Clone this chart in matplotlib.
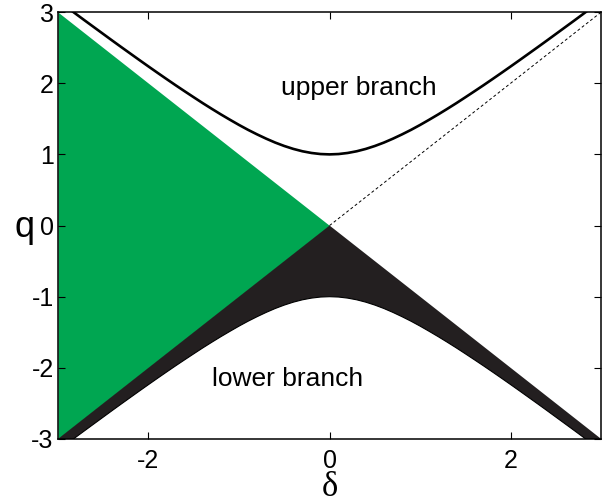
import matplotlib.pyplot as plt

# delta grid and the two branches
delta = [-3.0, -2.9, -2.8, -2.7, -2.6, -2.5, -2.4, -2.3, -2.2, -2.1, -2.0,
         -1.9, -1.8, -1.7, -1.6, -1.5, -1.4, -1.3, -1.2, -1.1, -1.0,
         -0.9, -0.8, -0.7, -0.6, -0.5, -0.4, -0.3, -0.2, -0.1, 0.0,
         0.1, 0.2, 0.3, 0.4, 0.5, 0.6, 0.7, 0.8, 0.9, 1.0,
         1.1, 1.2, 1.3, 1.4, 1.5, 1.6, 1.7, 1.8, 1.9, 2.0,
         2.1, 2.2, 2.3, 2.4, 2.5, 2.6, 2.7, 2.8, 2.9, 3.0]
upper = [3.162, 3.068, 2.973, 2.879, 2.786, 2.693, 2.600, 2.508, 2.417, 2.326, 2.236,
         2.147, 2.059, 1.972, 1.887, 1.803, 1.720, 1.640, 1.562, 1.487, 1.414,
         1.345, 1.281, 1.221, 1.166, 1.118, 1.077, 1.044, 1.020, 1.005, 1.000,
         1.005, 1.020, 1.044, 1.077, 1.118, 1.166, 1.221, 1.281, 1.345, 1.414,
         1.487, 1.562, 1.640, 1.720, 1.803, 1.887, 1.972, 2.059, 2.147, 2.236,
         2.326, 2.417, 2.508, 2.600, 2.693, 2.786, 2.879, 2.973, 3.068, 3.162]
lower = [-3.162, -3.068, -2.973, -2.879, -2.786, -2.693, -2.600, -2.508, -2.417, -2.326, -2.236,
         -2.147, -2.059, -1.972, -1.887, -1.803, -1.720, -1.640, -1.562, -1.487, -1.414,
         -1.345, -1.281, -1.221, -1.166, -1.118, -1.077, -1.044, -1.020, -1.005, -1.000,
         -1.005, -1.020, -1.044, -1.077, -1.118, -1.166, -1.221, -1.281, -1.345, -1.414,
         -1.487, -1.562, -1.640, -1.720, -1.803, -1.887, -1.972, -2.059, -2.147, -2.236,
         -2.326, -2.417, -2.508, -2.600, -2.693, -2.786, -2.879, -2.973, -3.068, -3.162]

# corners of the dark band's top edge (q = -|delta|), walked right to left
band_d = [3.0, 0.0, -3.0]
band_q = [-3.0, 0.0, -3.0]

# green wedge for delta < 0 between q = delta and q = -delta
wedge_d = [-3.0, 0.0]
wedge_lo = [-3.0, 0.0]
wedge_hi = [3.0, 0.0]

# dashed diagonal q = delta for delta > 0
diag_d = [0.0, 3.0]
diag_q = [0.0, 3.0]

xticks = [-2, 0, 2]
yticks = [-3, -2, -1, 0, 1, 2, 3]

plt.rcParams['font.family'] = ['Liberation Sans', 'DejaVu Sans']
plt.rcParams['axes.unicode_minus'] = False

fig = plt.figure(figsize=(6.16, 5.04), dpi=100)
ax = fig.add_axes([0.094, 0.129, 0.882, 0.847])

ax.fill_between(wedge_d, wedge_lo, wedge_hi, color='#00a651', linewidth=0)
ax.fill(delta + band_d, lower + band_q, color='#231f20', linewidth=0)
ax.plot(delta, lower, color='black', linewidth=0.8)
ax.plot(delta, upper, color='black', linewidth=1.9)
ax.plot(diag_d, diag_q, color='black', linewidth=0.7, linestyle=(0, (3, 2.5)))

ax.text(0.32, 1.93, 'upper branch', fontsize=19, ha='center', va='center')
ax.text(-0.46, -2.15, 'lower branch', fontsize=19, ha='center', va='center')

ax.set_xlim(-3, 3)
ax.set_ylim(-3, 3)
ax.set_xticks(xticks)
ax.set_yticks(yticks)
ax.tick_params(direction='in', length=5, width=0.8, labelsize=18,
               top=True, right=True)
ax.tick_params(axis='x', pad=7)
ax.tick_params(axis='y', pad=3)
for sp in ax.spines.values():
    sp.set_linewidth(1.1)

ax.set_xlabel('δ', fontsize=25, family='Liberation Serif', va='baseline')
ax.xaxis.set_label_coords(0.5, -0.134)
ax.set_ylabel('q', fontsize=26, rotation=0, ha='center', va='baseline')
ax.yaxis.set_label_coords(-0.061, 0.473)

fig.savefig('out.png', dpi=100)
